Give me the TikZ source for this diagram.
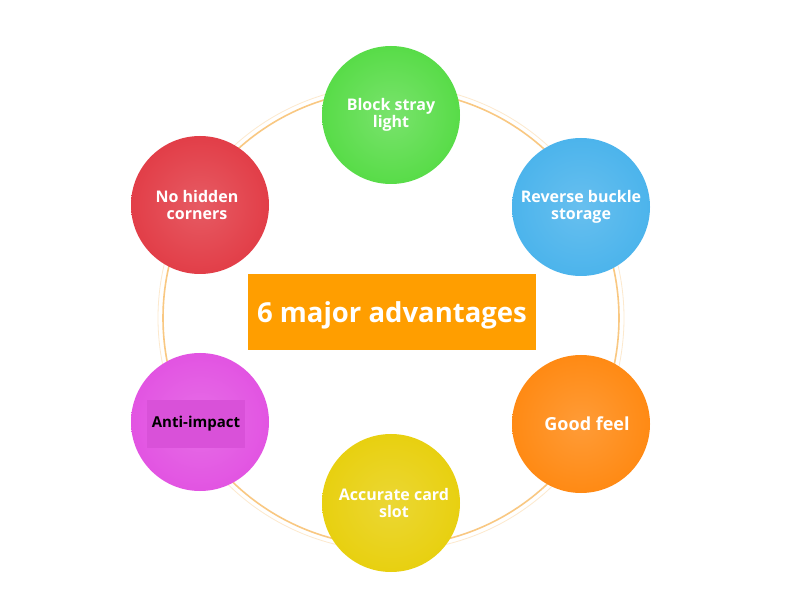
\documentclass[tikz,border=0pt]{standalone}
\usepackage{fontspec}
\setmainfont{Open Sans}
\definecolor{ringO}{RGB}{249,200,130}
\definecolor{boxO}{RGB}{255,158,0}
\definecolor{advG}{RGB}{88,220,72}
\definecolor{advB}{RGB}{76,180,236}
\definecolor{advR}{RGB}{226,62,72}
\definecolor{advM}{RGB}{226,84,226}
\definecolor{advO}{RGB}{255,138,20}
\definecolor{advY}{RGB}{232,208,16}

\begin{document}
\begin{tikzpicture}[x=1pt,y=-1pt,
  adv/.style={circle,minimum size=138pt,inner sep=0pt,align=center,
    font=\bfseries\fontsize{16}{17}\selectfont,text=white}]
\useasboundingbox (0,0) rectangle (790,601);
\fill[white] (0,0) rectangle (790,601);
\draw[ringO,line width=1.6pt] (391,318) circle[radius=228];
\draw[ringO!40,line width=0.8pt] (391,318) circle[radius=233];
\node[fill=boxO,minimum width=288pt,minimum height=76pt,text=white,text height=22pt,text depth=0pt,
  font=\bfseries\fontsize{27.5}{27}\selectfont] (title) at (392,312) {6 major advantages};
\node[adv,shading=radial,inner color=advG!80!white,outer color=advG] (stray) at (391,115) {Block stray\\light};
\node[adv,shading=radial,inner color=advB!85!white,outer color=advB] (buckle) at (581,207) {Reverse buckle\\storage};
\node[adv,shading=radial,inner color=advR!85!white,outer color=advR] (hidden) at (200,205) {\hspace*{-6pt}No hidden\\\hspace*{-6pt}corners};
\node[adv,shading=radial,inner color=advM!85!white,outer color=advM] (impact) at (200,422) {};
\node[fill=advM!96!black,minimum width=98pt,minimum height=48pt,text=black,
  font=\bfseries\fontsize{15}{15}\selectfont] (impactlbl) at (196,424) {Anti-impact};
\node[adv,shading=radial,inner color=advO!85!white,outer color=advO,
  font=\bfseries\fontsize{18}{18}\selectfont] (feel) at (581,424) {\hspace*{12pt}Good feel};
\node[adv,shading=radial,inner color=advY!85!white,outer color=advY] (slot) at (391,503) {\hspace*{6pt}Accurate card\\\hspace*{6pt}slot};
\end{tikzpicture}
\end{document}
